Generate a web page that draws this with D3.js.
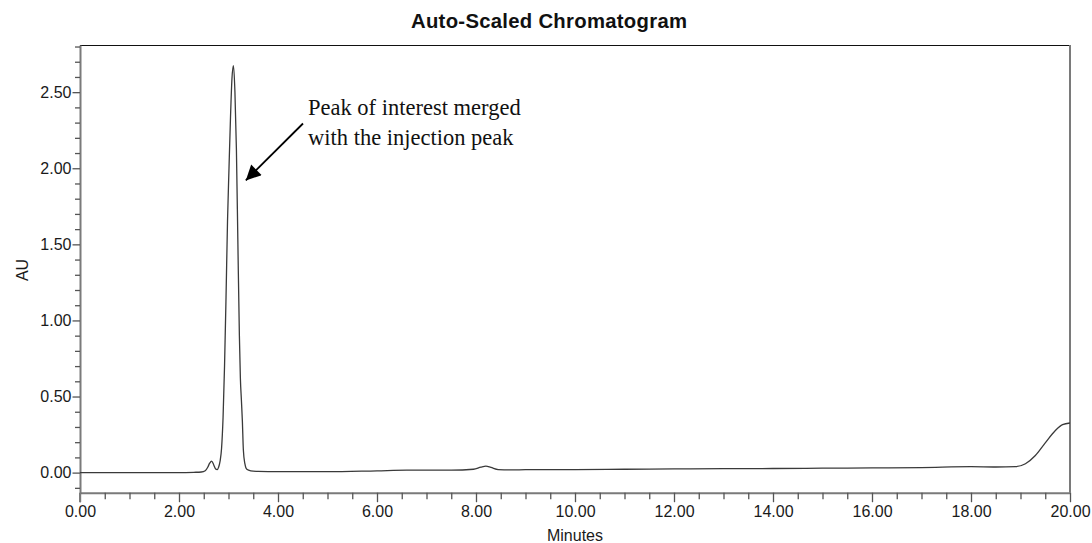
<!DOCTYPE html>
<html>
<head>
<meta charset="utf-8">
<script src="https://cdn.jsdelivr.net/npm/d3@7"></script>
<style>
  html, body { margin: 0; padding: 0; background: #fff; }
  svg { display: block; }
</style>
</head>
<body>
<script>
// Retention time (minutes) and detector response (AU) of the trace
const timeMin = [
  0.00, 1.00, 2.00, 2.30, 2.45, 2.53, 2.58, 2.62, 2.66, 2.70, 2.74, 2.77,
  2.80, 2.83, 2.86, 2.89, 2.92, 2.95, 2.98, 3.01, 3.04, 3.07, 3.10, 3.13,
  3.16, 3.19, 3.22, 3.24, 3.26, 3.28, 3.30, 3.33, 3.37, 3.45, 3.60, 4.00,
  5.00, 6.00, 6.60, 7.50, 7.95, 8.10, 8.20, 8.30, 8.45, 8.70, 9.00, 10.00,
  11.00, 12.00, 13.00, 14.00, 15.00, 16.00, 17.00, 18.00, 18.50, 18.90, 19.10,
  19.30, 19.50, 19.70, 19.85, 20.00
];
const absorbanceAU = [
  0.000, 0.000, 0.000, 0.002, 0.004, 0.012, 0.035, 0.062, 0.076, 0.052, 0.024, 0.020,
  0.035, 0.075, 0.160, 0.360, 0.700, 1.150, 1.650, 2.000, 2.330, 2.590, 2.675, 2.500,
  2.120, 1.500, 0.900, 0.620, 0.480, 0.340, 0.150, 0.060, 0.022, 0.012, 0.008, 0.006,
  0.006, 0.012, 0.016, 0.016, 0.022, 0.036, 0.042, 0.034, 0.020, 0.018, 0.019, 0.020,
  0.022, 0.024, 0.026, 0.027, 0.029, 0.031, 0.033, 0.039, 0.037, 0.039, 0.058,
  0.112, 0.195, 0.275, 0.315, 0.326
];

// Axis ticks
const xMajorTicks = [0, 2, 4, 6, 8, 10, 12, 14, 16, 18, 20];
const xTickLabels = ["0.00", "2.00", "4.00", "6.00", "8.00", "10.00", "12.00", "14.00", "16.00", "18.00", "20.00"];
const yMajorTicks = [0, 0.5, 1.0, 1.5, 2.0, 2.5];
const yTickLabels = ["0.00", "0.50", "1.00", "1.50", "2.00", "2.50"];

const titleText = "Auto-Scaled Chromatogram";
const xAxisTitle = "Minutes";
const yAxisTitle = "AU";
const noteLines = ["Peak of interest merged", "with the injection peak"];
const notePointAt = [3.35, 1.92]; // minutes, AU

const W = 1092, H = 543;
const plot = { left: 80, right: 1070, top: 45, bottom: 492.7 };
const axisGray = "#7a7a7a";
const sansFont = "'Liberation Sans', Arial, sans-serif";
const serifFont = "'Liberation Serif', 'Times New Roman', serif";

const svg = d3.select("body").append("svg")
  .attr("width", W).attr("height", H)
  .attr("viewBox", `0 0 ${W} ${H}`);

svg.append("rect").attr("width", W).attr("height", H).attr("fill", "#fff");

const x = d3.scaleLinear().domain([0, 20]).range([plot.left, plot.right]);
const y = d3.scaleLinear().domain([-0.132, 2.81]).range([plot.bottom, plot.top]);

const xMinor = d3.range(0, 20.001, 0.5).filter(v => !xMajorTicks.some(m => Math.abs(m - v) < 1e-6));
const yMinor = d3.range(-0.1, 2.801, 0.1)
  .map(v => Math.round(v * 10) / 10)
  .filter(v => !yMajorTicks.some(m => Math.abs(m - v) < 1e-6));

// Frame: black top edge, grey right edge
svg.append("line")
  .attr("x1", plot.left).attr("x2", plot.right)
  .attr("y1", plot.top + 0.5).attr("y2", plot.top + 0.5)
  .attr("stroke", "#111").attr("stroke-width", 1.2);
svg.append("line")
  .attr("x1", plot.right).attr("x2", plot.right)
  .attr("y1", plot.top).attr("y2", plot.bottom)
  .attr("stroke", axisGray).attr("stroke-width", 2);

// X axis
const xAxisMajor = d3.axisBottom(x).tickValues(xMajorTicks)
  .tickFormat((d, i) => xTickLabels[i]).tickSize(9.5).tickPadding(3).tickSizeOuter(0);
const gx = svg.append("g").attr("transform", `translate(0,${plot.bottom})`).call(xAxisMajor);
const gxMinor = svg.append("g").attr("transform", `translate(0,${plot.bottom})`)
  .call(d3.axisBottom(x).tickValues(xMinor).tickFormat("").tickSize(6.5).tickSizeOuter(0));
gxMinor.select(".domain").remove();

// Y axis
const yAxisMajor = d3.axisLeft(y).tickValues(yMajorTicks)
  .tickFormat((d, i) => yTickLabels[i]).tickSize(7.5).tickPadding(1).tickSizeOuter(0);
const gy = svg.append("g").attr("transform", `translate(${plot.left},0)`).call(yAxisMajor);
const gyMinor = svg.append("g").attr("transform", `translate(${plot.left},0)`)
  .call(d3.axisLeft(y).tickValues(yMinor).tickFormat("").tickSize(5).tickSizeOuter(0));
gyMinor.select(".domain").remove();

[gx, gy, gxMinor, gyMinor].forEach(g => {
  g.selectAll(".domain").attr("stroke", axisGray).attr("stroke-width", 2);
  g.selectAll(".tick line").attr("stroke", "#555").attr("stroke-width", 1.3);
  g.selectAll(".tick text")
    .attr("fill", "#1a1a1a")
    .style("font-family", sansFont)
    .style("font-size", "16px");
});
// extend the y axis down through the x = 0 major tick
svg.append("line")
  .attr("x1", plot.left).attr("x2", plot.left)
  .attr("y1", plot.bottom).attr("y2", plot.bottom + 9.5)
  .attr("stroke", axisGray).attr("stroke-width", 2);

// Trace
const line = d3.line()
  .x((d, i) => x(timeMin[i]))
  .y(d => y(d))
  .curve(d3.curveMonotoneX);
svg.append("path")
  .datum(absorbanceAU)
  .attr("d", line)
  .attr("fill", "none")
  .attr("stroke", "#3a3a3a")
  .attr("stroke-width", 1.3)
  .attr("stroke-linejoin", "round");

// Titles
svg.append("text")
  .attr("x", 549).attr("y", 28)
  .attr("text-anchor", "middle")
  .attr("textLength", 276).attr("lengthAdjust", "spacing")
  .style("font-family", sansFont).style("font-weight", "bold").style("font-size", "20.3px")
  .attr("fill", "#111")
  .text(titleText);

svg.append("text")
  .attr("x", 575).attr("y", 541)
  .attr("text-anchor", "middle")
  .style("font-family", sansFont).style("font-size", "16px")
  .attr("fill", "#1a1a1a")
  .text(xAxisTitle);

svg.append("text")
  .attr("transform", "translate(28,270) rotate(-90)")
  .attr("text-anchor", "middle")
  .style("font-family", sansFont).style("font-size", "16px")
  .attr("fill", "#1a1a1a")
  .text(yAxisTitle);

// Annotation with arrow
const defs = svg.append("defs");
defs.append("marker")
  .attr("id", "arrowhead")
  .attr("viewBox", "0 0 10 10")
  .attr("refX", 10).attr("refY", 5)
  .attr("markerUnits", "userSpaceOnUse")
  .attr("markerWidth", 19).attr("markerHeight", 15)
  .attr("orient", "auto")
  .append("path").attr("d", "M0,0 L10,5 L0,10 Z").attr("fill", "#000");

svg.append("line")
  .attr("x1", 303).attr("y1", 123.5)
  .attr("x2", x(notePointAt[0])).attr("y2", y(notePointAt[1]))
  .attr("stroke", "#000").attr("stroke-width", 1.8)
  .attr("marker-end", "url(#arrowhead)");

const note = svg.append("text")
  .style("font-family", serifFont).style("font-size", "22.5px")
  .attr("fill", "#111");
noteLines.forEach((t, i) => {
  note.append("tspan").attr("x", 308).attr("y", 115 + i * 30).text(t);
});
</script>
</body>
</html>
